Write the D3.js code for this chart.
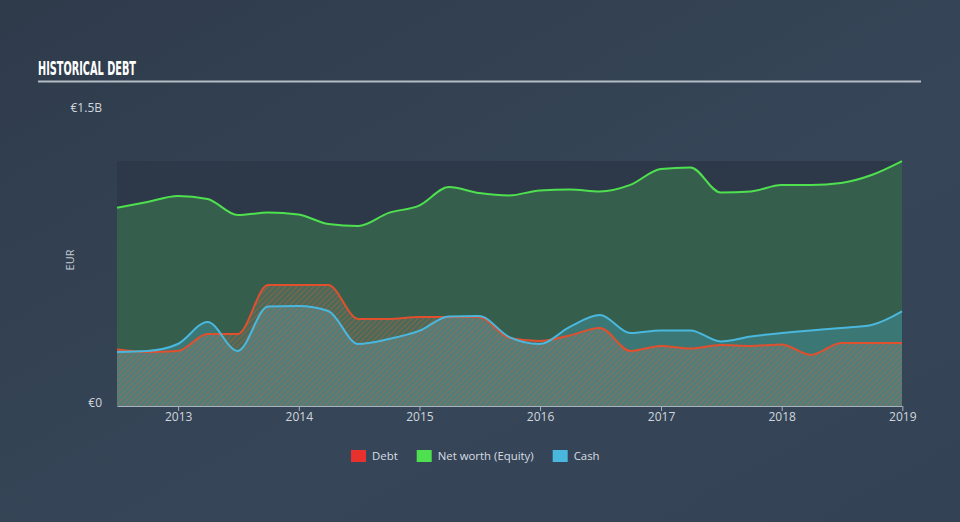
<!DOCTYPE html>
<html>
<head>
<meta charset="utf-8">
<script src="https://cdn.jsdelivr.net/npm/d3@7"></script>
<style>
  html, body { margin: 0; padding: 0; background: #334153; }
  svg { display: block; font-family: "Open Sans", "DejaVu Sans", sans-serif; }
</style>
</head>
<body>
<svg id="chart" width="960" height="522"></svg>
<script>
// quarterly report dates
const dates = ['2012-06-30', '2012-09-30', '2012-12-31', '2013-03-31', '2013-06-30', '2013-09-30', '2013-12-31',
  '2014-03-31', '2014-06-30', '2014-09-30', '2014-12-31', '2015-03-31', '2015-06-30', '2015-09-30', '2015-12-31',
  '2016-03-31', '2016-06-30', '2016-09-30', '2016-12-31', '2017-03-31', '2017-06-30', '2017-09-30', '2017-12-31',
  '2018-03-31', '2018-06-30', '2018-09-30', '2018-12-31'];

// values in EUR millions
const debt = [284, 272, 277, 362, 362, 609, 609, 609, 438, 438, 448, 448, 448, 342, 327,
  355, 393, 277, 302, 289, 307, 302, 310, 257, 317, 317, 317];
const equity = [998, 1027, 1057, 1042, 961, 974, 964, 916, 906, 972, 1009, 1102, 1072, 1060, 1085,
  1090, 1080, 1113, 1193, 1201, 1075, 1080, 1113, 1113, 1123, 1163, 1233];
const cash = [272, 277, 312, 423, 277, 501, 503, 478, 312, 337, 378, 451, 453, 347, 312,
  398, 458, 367, 380, 380, 325, 350, 367, 380, 393, 408, 476];

const year_ticks = [2013, 2014, 2015, 2016, 2017, 2018, 2019];
const y_labels = [{ value: 0, text: '€0' }, { value: 1500, text: '€1.5B' }];

const legend_items = [
  { label: 'Debt', color: '#e8302c' },
  { label: 'Net worth (Equity)', color: '#4fe04f' },
  { label: 'Cash', color: '#4ab8de' },
];

const parse = d3.timeParse('%Y-%m-%d');
const rows = dates.map((d, i) => ({ date: parse(d), debt: debt[i], equity: equity[i], cash: cash[i] }));

const svg = d3.select('#chart');
const margin = { left: 117, right: 902, top: 108, bottom: 406 };

const x = d3.scaleTime()
  .domain(d3.extent(rows, d => d.date))
  .range([margin.left, margin.right]);
const y = d3.scaleLinear()
  .domain([0, 1500])
  .range([margin.bottom, margin.top]);

// background gradient
const defs = svg.append('defs');
const bg = defs.append('linearGradient').attr('id', 'bg').attr('x1', 0).attr('y1', 0).attr('x2', 1).attr('y2', 1);
bg.append('stop').attr('offset', '0%').attr('stop-color', '#2f3b4b');
bg.append('stop').attr('offset', '60%').attr('stop-color', '#364658');
bg.append('stop').attr('offset', '100%').attr('stop-color', '#334255');

// diagonal hatch for the debt area
const hatch = defs.append('pattern')
  .attr('id', 'hatch')
  .attr('patternUnits', 'userSpaceOnUse')
  .attr('width', 4).attr('height', 4)
  .attr('patternTransform', 'rotate(45)');
hatch.append('rect').attr('width', 4).attr('height', 4).attr('fill', 'rgba(175,165,155,0.16)');
hatch.append('line')
  .attr('x1', 0).attr('y1', 0).attr('x2', 0).attr('y2', 4)
  .attr('stroke', 'rgba(225,85,50,0.42)').attr('stroke-width', 2.2);

svg.append('rect').attr('width', 960).attr('height', 522).attr('fill', 'url(#bg)');

// title
svg.append('text')
  .attr('x', 38).attr('y', 75)
  .attr('font-family', '"Liberation Sans Narrow", "DejaVu Sans Condensed", sans-serif')
  .attr('font-weight', 'bold')
  .attr('font-size', 19)
  .attr('textLength', 98)
  .attr('lengthAdjust', 'spacingAndGlyphs')
  .attr('fill', '#ffffff')
  .text('HISTORICAL DEBT');
svg.append('line')
  .attr('x1', 38).attr('x2', 921).attr('y1', 81.5).attr('y2', 81.5)
  .attr('stroke', '#b4bcc6').attr('stroke-width', 2);

// plot background
const ymax = d3.max(rows, d => d.equity);
svg.append('rect')
  .attr('x', margin.left).attr('y', y(ymax))
  .attr('width', margin.right - margin.left)
  .attr('height', margin.bottom - y(ymax))
  .attr('fill', '#2d3948');

const curve = d3.curveMonotoneX;
const area = key => d3.area().x(d => x(d.date)).y0(y(0)).y1(d => y(d[key])).curve(curve);
const line = key => d3.line().x(d => x(d.date)).y(d => y(d[key])).curve(curve);

svg.append('path').attr('d', area('equity')(rows)).attr('fill', 'rgba(76,200,90,0.27)');
svg.append('path').attr('d', area('cash')(rows)).attr('fill', 'rgba(74,184,222,0.28)');
svg.append('path').attr('d', area('debt')(rows)).attr('fill', 'url(#hatch)');

svg.append('path').attr('d', line('equity')(rows)).attr('fill', 'none').attr('stroke', '#4fe04f').attr('stroke-width', 2);
svg.append('path').attr('d', line('debt')(rows)).attr('fill', 'none').attr('stroke', '#e0502e').attr('stroke-width', 2);
svg.append('path').attr('d', line('cash')(rows)).attr('fill', 'none').attr('stroke', '#4ab8de').attr('stroke-width', 2);

// x axis
const gx = svg.append('g')
  .attr('transform', `translate(0,${margin.bottom})`)
  .call(d3.axisBottom(x)
    .tickValues(year_ticks.map(yr => new Date(yr, 0, 1)))
    .tickFormat(d3.timeFormat('%Y'))
    .tickSize(5)
    .tickSizeOuter(0));
gx.select('.domain').attr('stroke', '#a9b3bf');
gx.selectAll('.tick line').attr('stroke', '#a9b3bf');
gx.selectAll('.tick text')
  .attr('fill', '#d0d6dd')
  .attr('font-size', 12)
  .attr('font-family', '"Open Sans", "DejaVu Sans", sans-serif')
  .attr('dy', '0.55em');

// y labels
svg.selectAll('text.ylabel')
  .data(y_labels)
  .join('text')
  .attr('class', 'ylabel')
  .attr('x', 102)
  .attr('y', d => y(d.value))
  .attr('dy', d => d.value === 0 ? '0.1em' : '0.35em')
  .attr('text-anchor', 'end')
  .attr('font-size', 12)
  .attr('fill', '#d0d6dd')
  .text(d => d.text);

svg.append('text')
  .attr('transform', 'translate(74,260) rotate(-90)')
  .attr('text-anchor', 'middle')
  .attr('font-size', 11)
  .attr('fill', '#c4cbd3')
  .text('EUR');

// legend
const legend = svg.append('g').attr('transform', 'translate(351,456)');
let offset = 0;
legend_items.forEach(item => {
  const g = legend.append('g').attr('transform', `translate(${offset},0)`);
  g.append('rect').attr('x', 0).attr('y', -6).attr('width', 15).attr('height', 12).attr('fill', item.color);
  const t = g.append('text')
    .attr('x', 21).attr('y', 0).attr('dy', '0.35em')
    .attr('font-size', 11.4)
    .attr('fill', '#d8dde3')
    .text(item.label);
  offset += 21 + t.node().getComputedTextLength() + 19;
});
</script>
</body>
</html>
